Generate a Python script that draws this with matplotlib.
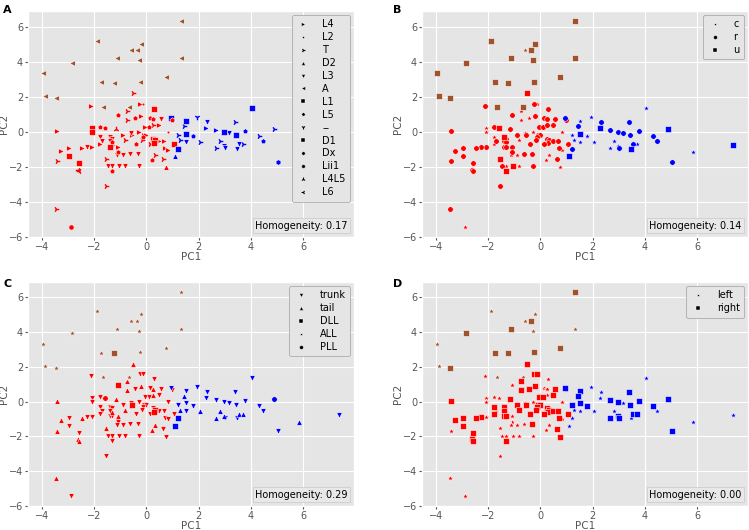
import matplotlib
matplotlib.use("Agg")
import matplotlib.pyplot as plt
from matplotlib.lines import Line2D
from matplotlib.offsetbox import AnchoredText

plt.style.use('ggplot')

# PCA coordinates (brown cluster, blue cluster, red cluster)
pc1 = [1.31, -1.90, -0.20, -0.37, -0.57, -1.12, 1.34, -0.28, -2.85, -3.96,
       0.74, -1.74, -1.25, -0.24, -3.89, -3.47, -1.66, -0.65,
       0.96, 1.53, 1.94, 1.44, 1.50, 1.20, 1.28, 1.53, 1.23, 1.08,
       1.79, 2.07, 2.31, 2.28, 2.67, 2.98, 3.17, 3.41, 3.42, 3.78,
       2.83, 2.96, 3.02, 2.67, 3.46, 3.54, 3.70, 4.04, 4.31, 4.48,
       4.88, 5.02, 5.86, 7.38,
       -0.51, -0.24, -0.13, 0.28, -2.10, -0.75, -0.72, -0.45, -1.10, -0.21,
       0.16, 0.26, 0.56, 0.99, -1.78, -1.57, -2.06, -0.05, 0.11, 0.25,
       0.49, -1.17, -2.06, -3.42, -0.88, -0.60, -0.53, -0.29, -0.08, -0.03,
       -0.13, -0.18, 0.26, 0.32, 0.30, 0.50, 0.69, 0.83, 1.05, -1.76,
       -1.39, -1.32, -1.69, -1.39, -1.30, 0.14, -0.40, -0.82, -1.77, -1.39,
       -1.30, -1.10, 0.73, 0.82, -2.07, -2.28, -2.45, -2.96, -3.26, -1.10,
       -2.96, -0.62, -0.32, -0.88, -1.11, 0.34, -1.55, 0.63, 0.22, -2.57,
       -3.42, -1.48, -1.32, -1.03, -0.81, -0.27, 0.74, -2.62, -2.57, -1.32,
       -1.56, -3.45, -2.87]
pc2 = [6.30, 5.20, 5.03, 4.64, 4.64, 4.19, 4.19, 4.09, 3.92, 3.34,
       3.11, 2.81, 2.77, 2.83, 2.03, 1.91, 1.41, 1.41,
       0.78, 0.63, 0.86, 0.32, -0.11, -0.19, -0.46, -0.57, -0.97, -1.40,
       -0.25, -0.57, 0.55, 0.21, 0.11, -0.02, -0.10, 0.55, -0.21, 0.06,
       -0.54, -0.82, -0.96, -0.94, -0.97, -0.69, -0.69, 1.36, -0.23, -0.55,
       0.13, -1.72, -1.15, -0.78,
       2.18, 1.57, 1.57, 1.28, 1.47, 1.19, 0.69, 0.75, 0.94, 0.88,
       0.80, 0.71, 0.73, 0.67, 0.29, 0.21, 0.21, 0.29, 0.29, 0.40,
       0.38, 0.13, -0.04, 0.02, -0.17, -0.08, -0.21, -0.02, -0.17, -0.21,
       -0.31, -0.50, -0.40, -0.50, -0.63, -0.54, -0.54, -0.02, -0.69, -0.31,
       -0.31, -0.40, -0.55, -0.55, -0.60, -0.69, -0.71, -0.48, -0.69, -0.86,
       -0.86, -0.86, -0.92, -1.03, -0.90, -0.88, -0.92, -0.94, -1.09, -1.15,
       -1.38, -1.28, -1.28, -1.36, -1.36, -1.36, -1.55, -1.57, -1.64, -1.80,
       -1.70, -1.97, -1.97, -1.99, -1.99, -1.97, -2.03, -2.18, -2.27, -2.26,
       -3.12, -4.42, -5.43]
cluster = [2] * 18 + [1] * 34 + [0] * 83

cat_a = (['A'] * 18 +
         ['L1', 'L1', '--', 'T', 'L1', 'T', 'T', 'L3', 'D1', 'D2',
          'L5', 'T', 'L3', 'L4', 'L4', 'L1', 'L3', 'T', 'L1', 'L5',
          'T', 'L3', 'L3', 'T', 'L3', 'L3', 'T', 'L1', 'T', 'L5',
          'T', 'Dx', 'T', 'T'] +
         ['T', 'L4', 'L2', 'L1', 'L4', 'T', 'T', 'L5', 'L5', 'L4',
          'L5', 'L5', 'L3', 'L5', 'L5', 'L5', 'L1', 'L4', 'L5', 'T',
          'L4', 'L4L5', 'L1', 'L4', 'L4', 'L3', 'L4', 'L4', 'L4', 'L4',
          'L5', 'T', 'L1', 'L1', 'L1', 'L4', 'L4', 'L2', 'L1', 'L3',
          'L3', 'L3', 'L3', 'L3', 'L5', 'T', 'L5', 'T', 'L4', 'L1',
          'L3', 'L4', 'L4', 'L4', 'L4', 'L3', 'L4', 'L4', 'L4', 'L5',
          'L1', 'L3', 'L3', 'L3', 'L3', 'T', 'T', 'T', 'L5', 'L1',
          'T', 'L3', 'L3', 'L3', 'L3', 'L3', 'D2', 'L6', 'L6', 'L5',
          'T', 'T', 'Lii1'])
cat_b = (['u', 'u', 'u', 'u', 'c', 'u', 'u', 'u', 'u', 'u',
          'u', 'u', 'u', 'u', 'u', 'u', 'u', 'u'] +
         ['r', 'c', 'c', 'r', 'u', 'c', 'c', 'c', 'r', 'u',
          'c', 'c', 'r', 'u', 'r', 'r', 'r', 'r', 'r', 'r',
          'c', 'c', 'r', 'c', 'u', 'r', 'c', 'c', 'r', 'r',
          'u', 'r', 'c', 'u'] +
         ['u', 'r', 'c', 'r', 'r', 'c', 'c', 'c', 'r', 'r',
          'r', 'r', 'r', 'r', 'r', 'u', 'c', 'r', 'r', 'r',
          'r', 'r', 'c', 'r', 'r', 'c', 'r', 'c', 'r', 'r',
          'r', 'r', 'r', 'r', 'r', 'r', 'r', 'c', 'r', 'c',
          'u', 'r', 'r', 'r', 'r', 'r', 'r', 'c', 'c', 'r',
          'r', 'r', 'r', 'c', 'r', 'r', 'r', 'r', 'r', 'r',
          'r', 'r', 'r', 'c', 'c', 'c', 'u', 'r', 'c', 'r',
          'r', 'r', 'c', 'u', 'c', 'r', 'c', 'r', 'r', 'u',
          'r', 'r', 'c'])
cat_c = (['ALL'] * 12 + ['DLL'] + ['ALL'] * 5 +
         ['trunk', 'trunk', 'trunk', 'tail', 'trunk', 'trunk', 'tail', 'trunk', 'DLL', 'DLL',
          'trunk', 'tail', 'trunk', 'trunk', 'trunk', 'trunk', 'trunk', 'trunk', 'trunk', 'trunk',
          'tail', 'tail', 'trunk', 'tail', 'trunk', 'tail', 'tail', 'trunk', 'trunk', 'trunk',
          'PLL', 'trunk', 'tail', 'trunk'] +
         ['tail', 'trunk', 'trunk', 'trunk', 'trunk', 'tail', 'tail', 'trunk', 'DLL', 'tail',
          'trunk', 'tail', 'trunk', 'trunk', 'trunk', 'PLL', 'trunk', 'trunk', 'trunk', 'tail',
          'trunk', 'tail', 'trunk', 'tail', 'trunk', 'trunk', 'DLL', 'trunk', 'trunk', 'trunk',
          'trunk', 'trunk', 'trunk', 'DLL', 'DLL', 'trunk', 'trunk', 'trunk', 'trunk', 'trunk',
          'trunk', 'trunk', 'trunk', 'trunk', 'tail', 'trunk', 'trunk', 'tail', 'trunk', 'trunk',
          'trunk', 'tail', 'trunk', 'trunk', 'trunk', 'trunk', 'tail', 'trunk', 'tail', 'trunk',
          'trunk', 'trunk', 'trunk', 'trunk', 'trunk', 'tail', 'tail', 'trunk', 'tail', 'trunk',
          'tail', 'trunk', 'trunk', 'trunk', 'trunk', 'trunk', 'trunk', 'tail', 'tail', 'trunk',
          'trunk', 'tail', 'trunk'])
cat_d = (['right', 'left', 'left', 'right', 'left', 'right', 'left', 'left', 'right', 'left',
          'right', 'right', 'right', 'right', 'left', 'right', 'left', 'left'] +
         ['right', 'right', 'left', 'right', 'right', 'right', 'left', 'left', 'left', 'left',
          'right', 'left', 'left', 'left', 'right', 'right', 'left', 'right', 'right', 'right',
          'left', 'right', 'right', 'right', 'left', 'right', 'right', 'left', 'right', 'left',
          'right', 'right', 'left', 'left'] +
         ['right', 'right', 'right', 'left', 'left', 'right', 'right', 'right', 'left', 'right',
          'left', 'left', 'right', 'left', 'left', 'left', 'left', 'right', 'right', 'left',
          'right', 'right', 'left', 'right', 'right', 'left', 'right', 'left', 'right', 'right',
          'right', 'right', 'right', 'right', 'right', 'right', 'right', 'left', 'right', 'right',
          'right', 'left', 'left', 'right', 'left', 'right', 'right', 'right', 'right', 'right',
          'right', 'left', 'right', 'left', 'left', 'right', 'right', 'right', 'right', 'left',
          'right', 'left', 'right', 'left', 'left', 'left', 'left', 'right', 'left', 'right',
          'left', 'left', 'left', 'left', 'left', 'left', 'right', 'right', 'right', 'right',
          'left', 'left', 'left'])

labels_a = ['L4', 'L2', 'T', 'D2', 'L3', 'A', 'L1', 'L5', '--', 'D1', 'Dx', 'Lii1', 'L4L5', 'L6']
labels_b = ['c', 'r', 'u']
labels_c = ['trunk', 'tail', 'DLL', 'ALL', 'PLL']
labels_d = ['left', 'right']
homogeneity = [0.17, 0.14, 0.29, 0.00]

markers_a = ['>', '.', '4', '^', 'v', '<', 's', 'p', '1', 's', 'h', '8', '2', '3']
markers_b = ['*', 'o', 's']
markers_c = ['v', '^', 's', '*', 'o']
markers_d = ['*', 's']
colors = ['#ff0000', '#0000ff', '#a0522d']
line_marks = ['1', '2', '3', '4']

fig = plt.figure(figsize=(7.49, 5.30), dpi=100)
W, H = 749, 530
boxes = [(28, 11, 354, 237), (422, 11, 748, 237), (28, 282, 354, 506), (422, 282, 748, 506)]
letters = ['A', 'B', 'C', 'D']
letter_pos = [(3, 5), (393, 5), (3, 279), (393, 279)]
panels = [(cat_a, labels_a, markers_a), (cat_b, labels_b, markers_b),
          (cat_c, labels_c, markers_c), (cat_d, labels_d, markers_d)]

for k, (cats, labels, marks) in enumerate(panels):
    x0, y0, x1, y1 = boxes[k]
    ax = fig.add_axes([x0 / W, 1 - y1 / H, (x1 - x0) / W, (y1 - y0) / H])
    for lab, m in zip(labels, marks):
        for cl in range(3):
            idx = [i for i in range(len(pc1)) if cats[i] == lab and cluster[i] == cl]
            if not idx:
                continue
            xs = [pc1[i] for i in idx]
            ys = [pc2[i] for i in idx]
            if m in line_marks:
                ax.scatter(xs, ys, marker=m, s=16, color=colors[cl], linewidths=1.0)
            else:
                ax.scatter(xs, ys, marker=m, s=16 if m != '*' else 24, color=colors[cl],
                           edgecolors='white', linewidths=0.4)
    ax.set_xticks([-4, -2, 0, 2, 4, 6])
    ax.set_yticks([-6, -4, -2, 0, 2, 4, 6])
    ax.tick_params(labelsize=7, length=2, pad=1.5)
    ax.set_xlabel('PC1', fontsize=7.5)
    ax.set_ylabel('PC2', fontsize=7.5)
    ax.xaxis.set_label_coords(0.5, -0.066)
    ax.yaxis.set_label_coords(-0.058, 0.5)

    handles = []
    for lab, m in zip(labels, marks):
        handles.append(Line2D([], [], marker=m, color='k', ls='', markersize=2.8,
                              markeredgewidth=0.8 if m in line_marks else 0.3,
                              markeredgecolor='k' if m in line_marks else 'white'))
    leg = ax.legend(handles, labels, loc='upper right', fontsize=7, labelspacing=0.3,
                    handlelength=1.5, handletextpad=1.2, borderpad=0.45, borderaxespad=0.4,
                    frameon=True, fancybox=True)
    leg.get_frame().set_edgecolor('#a0a0a0')
    leg.get_frame().set_facecolor('#e5e5e5')
    leg.get_frame().set_alpha(1)

    at = AnchoredText('Homogeneity: %.2f' % homogeneity[k], loc='lower right',
                      prop=dict(size=7), frameon=True, borderpad=0.4, pad=0.25)
    at.patch.set_edgecolor('#c8c8c8')
    at.patch.set_facecolor('#e8e8e8')
    ax.add_artist(at)

    fig.text(letter_pos[k][0] / W, 1 - letter_pos[k][1] / H, letters[k], fontsize=8,
             fontweight='bold', va='top', ha='left')

fig.savefig('out.png', dpi=100)
